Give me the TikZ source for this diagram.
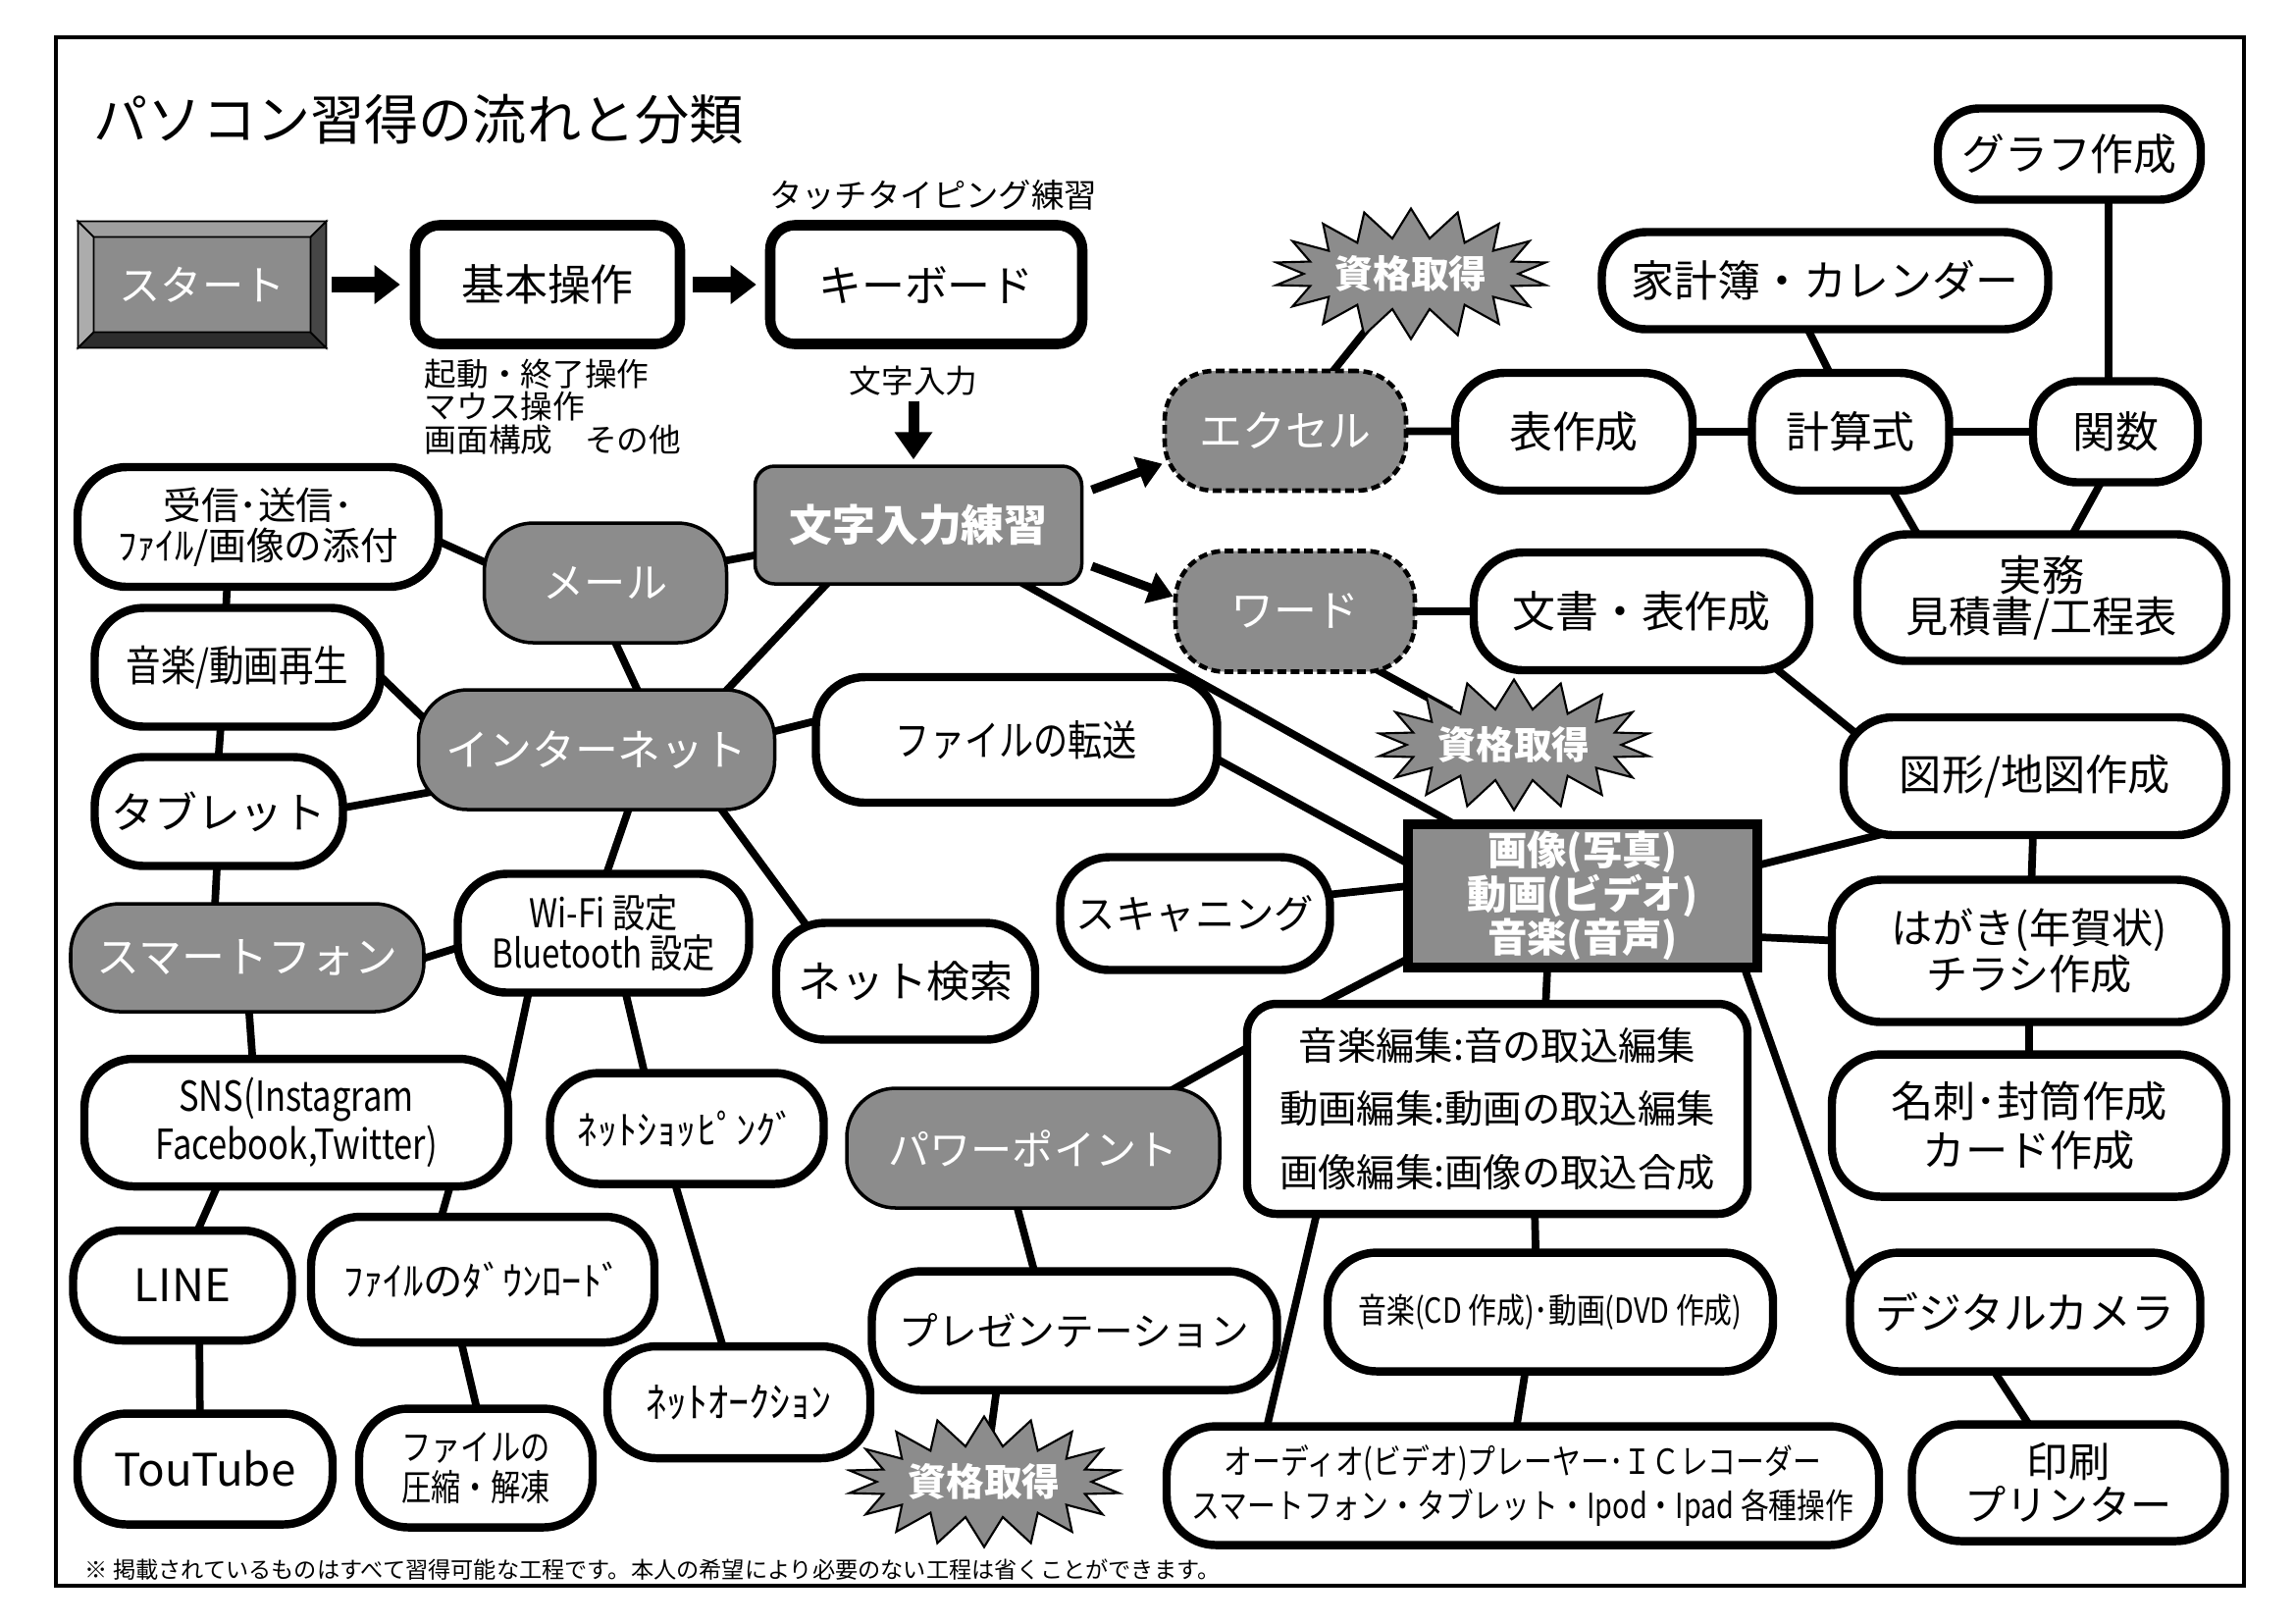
\documentclass[tikz,border=0pt]{standalone}
\usepackage{fontspec}
\setmainfont{Noto Sans CJK JP}
\newfontfamily\condfont[FakeStretch=0.82]{Noto Sans CJK JP}
\usetikzlibrary{arrows.meta,calc,backgrounds,shapes.symbols}
\definecolor{nodegray}{gray}{0.55}
\newcommand{\jsize}[2]{\fontsize{#1pt}{#2pt}\selectfont}

\begin{document}
\begin{tikzpicture}[x=0.1mm,y=-0.1mm,
	wh/.style 2 args={minimum width=#1mm, minimum height=#2mm},
	pill/.style={draw, line width=2.4pt, fill=white, rounded corners=5mm, inner sep=0pt, align=center, font=\jsize{12.5}{14}},
	graypill/.style={pill, fill=nodegray, line width=1pt, text=white},
	dashpill/.style={graypill, line width=1.3pt, dash pattern=on 0.9mm off 0.45mm},
	topbox/.style={pill, line width=3pt, rounded corners=2.5mm},
	burstbox/.style={starburst, starburst points=18, starburst point height=3mm, random starburst=0, draw, line width=0.6pt, fill=nodegray, text=white, inner sep=0pt, minimum width=27.8mm, minimum height=13.3mm, font=\bfseries\jsize{11}{12}},
	startbox/.style={draw, line width=0.8pt, fill=nodegray, text=white, minimum width=25mm, minimum height=12.6mm},
	link/.style={line width=2.2pt, shorten <=-3mm, shorten >=-3mm},
	bigarrow/.style={line width=1.6mm, -{Triangle[length=2.6mm,width=3.8mm]}},
	slantarrow/.style={line width=0.9mm, -{Triangle[length=2.5mm,width=3.2mm]}, shorten <=0.9mm}]
	\useasboundingbox (0,0) rectangle (2339,1654);
	\draw[line width=1pt] (57,38) rectangle (2287,1616);
	\node[anchor=west, inner sep=0pt, font=\jsize{15.7}{18}] (title) at (95,122) {パソコン習得の流れと分類};

	\node[startbox, font=\jsize{12}{14}] (start) at (206,290) {スタート};
	\fill[gray!75, draw=black, line width=0.5pt] (start.north west) -- (start.north east) -- ($(start.north east)+(-16,16)$) -- ($(start.north west)+(16,16)$) -- cycle;
	\fill[gray!65, draw=black, line width=0.5pt] (start.north west) -- ($(start.north west)+(16,16)$) -- ($(start.south west)+(16,-16)$) -- (start.south west) -- cycle;
	\fill[gray!35!black, draw=black, line width=0.5pt] (start.south west) -- ($(start.south west)+(16,-16)$) -- ($(start.south east)+(-16,-16)$) -- (start.south east) -- cycle;
	\fill[gray!55!black, draw=black, line width=0.5pt] (start.north east) -- ($(start.north east)+(-16,16)$) -- ($(start.south east)+(-16,-16)$) -- (start.south east) -- cycle;
	\node[topbox, wh={27}{12.1}] (basic) at (558,290) {基本操作};
	\node[topbox, wh={31.8}{12.1}] (keyboard) at (944,290) {キーボード};
	\node[font=\jsize{9.5}{11}] (typing) at (951,199) {タッチタイピング練習};
	\node[anchor=north west, inner sep=0pt, align=left, font=\jsize{9.3}{9.6}] (basicnote) at (432,365) {起動・終了操作\\マウス操作\\画面構成　その他};
	\node[inner sep=0pt, font=\jsize{9.3}{11}] (mojilabel) at (931,388) {文字入力};
	\node[graypill, rounded corners=2mm, wh={33.3}{12}, font=\bfseries\jsize{12.5}{14}] (moji) at (936,535) {文字入力練習};

	\node[dashpill, wh={24.6}{12.2}] (excel) at (1310,439) {エクセル};
	\node[dashpill, wh={24.4}{12.3}] (word) at (1320,623) {ワード};
	\node[burstbox] (burstA) at (1438,279) {資格取得};
	\node[burstbox] (burstB) at (1543,759) {資格取得};
	\node[burstbox] (burstC) at (1003,1510) {資格取得};
	\node[pill, wh={24.2}{12}] (hyo) at (1604,440) {表作成};
	\node[pill, wh={20.1}{12}] (keisan) at (1886,440) {計算式};
	\node[pill, wh={16.8}{10.3}, rounded corners=4.5mm] (kansuu) at (2156,440) {関数};
	\node[pill, wh={26.8}{9.3}, rounded corners=4.2mm] (graphnode) at (2109,157) {グラフ作成};
	\node[pill, wh={45.5}{9.9}, rounded corners=4.5mm] (kakeibo) at (1860,286) {家計簿・カレンダー};
	\node[pill, wh={37.6}{12.9}, font=\jsize{12.3}{11.8}] (jitsumu) at (2081,609) {実務\\見積書/工程表};
	\node[pill, wh={34.2}{12}] (bunsho) at (1673,623) {文書・表作成};
	\node[pill, wh={39}{12}, font=\jsize{12.3}{14}] (zukei) at (2074,791) {図形/地図作成};
	\node[draw, line width=2.6pt, fill=nodegray, text=white, inner sep=0pt, align=center, wh={35.6}{14.6}, font=\bfseries\jsize{11.5}{12.6}] (gazou) at (1613,913) {画像(写真)\\動画(ビデオ)\\音楽(音声)};
	\node[pill, wh={27.5}{11.5}, font=\jsize{11.5}{13}] (scan) at (1218,931) {スキャニング};
	\node[pill, wh={40.2}{14.5}, font=\jsize{12}{12.3}] (hagaki) at (2068,969) {はがき(年賀状)\\チラシ作成};
	\node[pill, wh={40.2}{14.5}, font=\jsize{12.3}{14.2}] (meishi) at (2068,1147) {名刺･封筒作成\\カード作成};
	\node[pill, wh={35.7}{12.1}] (digicam) at (2064,1337) {デジタルカメラ};
	\node[pill, wh={31.9}{11.9}, font=\jsize{12}{12.5}] (insatsu) at (2108,1511) {印刷\\プリンター};
	\node[pill, wh={51}{21.4}, rounded corners=3mm, font=\jsize{11.2}{18.3}] (henshu) at (1526,1130) {音楽編集:音の取込編集\\動画編集:動画の取込編集\\画像編集:画像の取込合成};
	\node[pill, wh={45.4}{12.1}, font=\condfont\jsize{10}{12}] (cddvd) at (1580,1337) {音楽(CD 作成)･動画(DVD 作成)};
	\node[pill, wh={72.6}{12.1}, font=\condfont\jsize{10}{13}] (audio) at (1552,1514) {オーディオ(ビデオ)プレーヤー･ＩＣレコーダー\\スマートフォン・タブレット・Ipod・Ipad 各種操作};

	\node[graypill, wh={24.7}{12.2}, font=\jsize{12}{14}] (mail) at (617,594) {メール};
	\node[pill, wh={36.8}{12.2}, font=\jsize{11}{11.7}] (jushin) at (263,537) {受信･送信･\\ﾌｧｲﾙ/画像の添付};
	\node[pill, wh={29.1}{12.1}, font=\condfont\jsize{12.3}{14}] (ongaku) at (242,680) {音楽/動画再生};
	\node[graypill, wh={36.3}{12.2}] (inet) at (608,764) {インターネット};
	\node[pill, wh={40.9}{12.8}, font=\condfont\jsize{12.2}{14}] (tensou) at (1036,754) {ファイルの転送};
	\node[pill, wh={25.3}{11.1}] (tablet) at (223,827) {タブレット};
	\node[graypill, wh={36}{11}] (smartphone) at (252,976) {スマートフォン};
	\node[pill, wh={29.7}{12.1}, font=\condfont\jsize{11.5}{11.7}] (wifi) at (615,951) {Wi-Fi 設定\\Bluetooth 設定};
	\node[pill, wh={26.4}{11.9}] (kensaku) at (923,1000) {ネット検索};
	\node[pill, wh={43.2}{13}, font=\condfont\jsize{12}{12.2}] (sns) at (302,1144) {SNS(Instagram\\Facebook,Twitter)};
	\node[pill, wh={27.9}{11.3}, font=\jsize{11.5}{13}] (shopping) at (700,1150) {ﾈｯﾄｼｮｯﾋﾟﾝｸﾞ};
	\node[pill, wh={22.3}{11.2}, font=\jsize{13}{14}] (linenode) at (186,1310) {LINE};
	\node[pill, wh={35}{12.8}, font=\jsize{11.5}{13}] (download) at (492,1304) {ﾌｧｲﾙのﾀﾞｳﾝﾛｰﾄﾞ};
	\node[pill, wh={26}{11.3}, font=\jsize{13}{14}] (youtube) at (209,1497) {TouTube};
	\node[pill, wh={23.8}{12.1}, font=\condfont\jsize{10.5}{11.7}] (asshuku) at (485,1496) {ファイルの\\圧縮・解凍};
	\node[pill, wh={26.8}{11.4}, font=\jsize{12}{13}] (auction) at (753,1429) {ﾈｯﾄｵｰｸｼｮﾝ};
	\node[graypill, wh={38}{12.2}, font=\jsize{12}{14}] (ppt) at (1053,1170) {パワーポイント};
	\node[pill, wh={41.3}{12.1}, font=\jsize{11.3}{13}] (presen) at (1095,1356) {プレゼンテーション};

	\node[anchor=west, inner sep=0pt, font=\jsize{6.6}{8}] (footnote) at (86,1600) {※ 掲載されているものはすべて習得可能な工程です。本人の希望により必要のない工程は省くことができます。};

	\draw[bigarrow, shorten <=0.6mm, shorten >=1mm] (start) -- (basic);
	\draw[bigarrow, shorten <=0.8mm, shorten >=0.9mm] (basic) -- (keyboard);
	\draw[line width=1.1mm, -{Triangle[length=2.8mm,width=3.7mm]}, shorten <=0.5mm, shorten >=0.5mm] (mojilabel.south) -- (mojilabel.south |- moji.north);
	\draw[slantarrow] (moji.11) -- (excel.195);
	\draw[slantarrow] (moji.-13) -- (word.173);

	\begin{scope}[on background layer]
		\fill[white] (0,0) rectangle (2339,1654);
		\path[link]
		(burstA) edge (excel)
		(excel) edge (hyo)
		(hyo) edge (keisan)
		(keisan) edge (kansuu)
		(kansuu.97) edge (kansuu.97 |- graphnode.south)
		(kakeibo.-106) edge (keisan.110)
		(keisan.-55) edge (jitsumu.152)
		(kansuu.-107) edge (jitsumu.64)
		(word) edge (bunsho)
		(word.-35) edge (burstB)
		(moji) edge (gazou)
		(tensou.-6) edge (gazou.169)
		(scan.8) edge (gazou.177)
		(bunsho.-24) edge (zukei.164)
		(gazou.10) edge (zukei.200)
		(zukei) edge (hagaki)
		(gazou.-13) edge (hagaki.177)
		(hagaki) edge (meishi)
		(gazou.-25) edge (digicam.163)
		(digicam.-114) edge (insatsu.124)
		(gazou.-115) edge (henshu.66)
		(gazou.200) edge (henshu.147)
		(henshu.167) edge (ppt.23)
		(henshu.-71) edge (cddvd.103)
		(henshu.211) edge (audio.166)
		(cddvd.-112) edge (audio.95)
		(jushin.-5) edge (mail.170)
		(jushin.-116) edge (ongaku.100)
		(mail) edge (moji)
		(ongaku.-5) edge (inet.168)
		(ongaku.-105) edge (tablet.north)
		(mail.-80) edge (inet.57)
		(moji.213) edge (inet.25)
		(inet.6) edge (tensou.175)
		(inet.194) edge (tablet.2)
		(tablet.-92) edge (smartphone.120)
		(smartphone.0) edge (wifi.186)
		(inet.-63) edge (wifi.86)
		(inet.-26) edge (kensaku.149)
		(smartphone.-88) edge (sns.123)
		(wifi.220) edge (sns.14)
		(wifi.-70) edge (shopping.126)
		(sns.220) edge (linenode.74)
		(sns.-24) edge (download.121)
		(linenode.-74) edge (youtube.95)
		(download.-107) edge (asshuku.north)
		(shopping.-100) edge (auction.106)
		(ppt.-104) edge (presen.123)
		(presen.219) edge (burstC);
	\end{scope}
\end{tikzpicture}
\end{document}
